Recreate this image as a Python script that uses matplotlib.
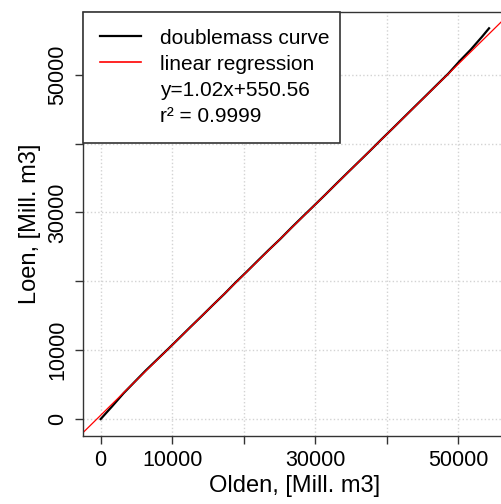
import matplotlib
matplotlib.use('Agg')
import matplotlib.pyplot as plt
from matplotlib.lines import Line2D

plt.rcParams['font.family'] = ['Liberation Sans', 'DejaVu Sans']

# cumulative volumes
olden_cum = [0, 1600, 3200, 4700, 6300, 7900, 9500, 11000, 12600, 14100,
             15700, 17300, 18800, 20400, 22000, 23500, 25100, 26700, 28200,
             29800, 31400, 32900, 34500, 36100, 37600, 39200, 40800, 42300,
             43900, 45500, 47000, 48600, 50200, 51700, 53300, 54300]
loen_cum = [0, 1850, 3750, 5350, 7050, 8650, 10250, 11780, 13420, 14930,
            16570, 18180, 19770, 21380, 23030, 24560, 26140, 27820, 29350,
            30960, 32580, 34130, 35760, 37380, 38900, 40560, 42180, 43720,
            45360, 46990, 48530, 50160, 52000, 53600, 55500, 56750]

reg_slope = 1.02
reg_intercept = 550.56
r_squared = 0.9999

tick_values = [0, 10000, 20000, 30000, 40000, 50000]
tick_labels = ['0', '10000', '', '30000', '', '50000']

fig = plt.figure(figsize=(5.02, 5.04), dpi=100)
ax = fig.add_axes([83.3 / 502, 68 / 504, 422.2 / 502, 424 / 504])

ax.grid(True, color='lightgray', linestyle=':', linewidth=1.0)
ax.set_axisbelow(True)

ax.plot(olden_cum, loen_cum, color='black', linewidth=1.6)
ax.axline((0, reg_intercept), slope=reg_slope, color='red', linewidth=0.9)

ax.set_xlim(-2430, 56600)
ax.set_ylim(-2460, 59115)

ax.set_xticks(tick_values)
ax.set_xticklabels(tick_labels)
ax.set_yticks(tick_values)
ax.set_yticklabels(tick_labels, rotation=90, va='center')
ax.tick_params(axis='both', labelsize=15.5, length=6, width=1, color='#333333')
ax.tick_params(axis='x', pad=4)
ax.tick_params(axis='y', pad=5)

for s in ax.spines.values():
    s.set_color('#333333')
    s.set_linewidth(1.0)

ax.set_xlabel('Olden, [Mill. m3]', fontsize=17, labelpad=3)
ax.set_ylabel('Loen, [Mill. m3]', fontsize=17, labelpad=4)

handles = [Line2D([], [], color='black', linewidth=1.6),
           Line2D([], [], color='red', linewidth=1.2),
           Line2D([], [], linestyle='none'),
           Line2D([], [], linestyle='none')]
labels = ['doublemass curve', 'linear regression',
          'y=%.2fx+%.2f' % (reg_slope, reg_intercept),
          'r\u00b2 = %.4f' % r_squared]
leg = ax.legend(handles, labels, loc='upper left',
                bbox_to_anchor=(0, 0, 0.608, 1), mode='expand',
                borderaxespad=0, fontsize=15, frameon=True, fancybox=False,
                borderpad=0.8, labelspacing=0.34, handlelength=1.95,
                handletextpad=0.95)
leg.get_frame().set_edgecolor('#333333')
leg.get_frame().set_linewidth(1.2)
leg.get_frame().set_alpha(1)

fig.savefig('out.png', dpi=100)
